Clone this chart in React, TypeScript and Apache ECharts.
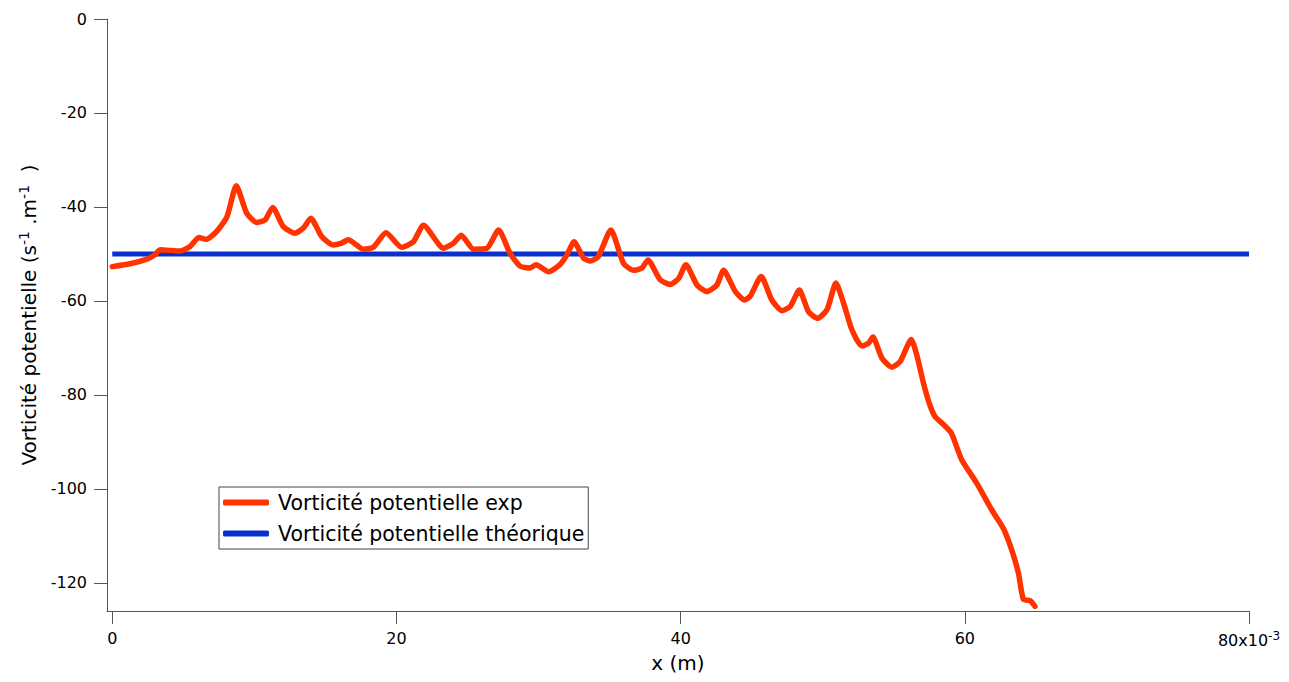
import React, { useEffect, useRef } from "react";
import * as echarts from "echarts";

const expX = [
  0, 1.25, 2.44, 3.0, 3.38, 4.77, 5.48, 6.1, 6.6, 7.35, 8.07, 8.73, 9.46, 10.16, 10.75, 11.29,
  12.04, 12.86, 13.45, 13.97, 14.74, 15.55, 16.14, 16.61, 17.67, 18.37, 19.27, 20.37, 21.19,
  21.9, 23.32, 24.02, 24.56, 25.43, 26.37, 27.19, 28.0, 28.7, 29.4, 29.83, 30.7, 31.5, 32.0,
  32.5, 33.17, 33.64, 34.2, 35.09, 35.98, 36.69, 37.27, 37.7, 38.56, 39.27, 39.86, 40.37,
  41.15, 41.85, 42.55, 43.02, 43.85, 44.5, 44.9, 45.67, 46.42, 47.13, 47.71, 48.35, 49.0,
  49.64, 50.3, 50.93, 51.47, 52.06, 52.76, 53.23, 53.53, 54.17, 54.87, 55.45, 56.23, 56.62,
  57.09, 57.5, 57.9, 58.5, 59.0, 59.2, 59.78, 60.84, 61.9, 62.71, 63.3, 63.77, 64.12, 64.59,
  64.94,
];
const expY = [
  -52.7, -52.1, -51.1, -50.2, -49.1, -49.4, -48.4, -46.5, -46.9, -45.2, -42.1, -35.5, -41.3,
  -43.3, -42.8, -40.1, -44.2, -45.6, -44.5, -42.4, -46.3, -48.1, -47.7, -47.0, -49.0, -48.6,
  -45.5, -48.6, -47.4, -43.9, -48.8, -47.7, -46.0, -49.0, -48.8, -44.9, -49.9, -52.6, -53.0,
  -52.3, -53.8, -52.3, -50.2, -47.4, -50.9, -51.5, -50.6, -44.9, -52.0, -53.5, -53.0, -51.3,
  -55.5, -56.5, -55.2, -52.3, -56.6, -58.0, -56.6, -53.5, -58.0, -59.8, -59.0, -54.8, -59.8,
  -62.1, -61.2, -57.7, -62.3, -63.7, -61.9, -56.2, -60.5, -66.2, -69.6, -69.0, -67.7, -72.2,
  -74.1, -72.9, -68.2, -71.5, -77.5, -81.8, -84.6, -86.3, -87.9, -89.2, -93.8, -98.8, -104.5,
  -108.4, -113.0, -117.9, -123.5, -123.8, -125.0,
];
const theoX = [0, 80];
const theoY = [-50, -50];
const xTicks = [0, 20, 40, 60, 80];
const yTicks = [0, -20, -40, -60, -80, -100, -120];
const expName = "Vorticité potentielle exp";
const theoName = "Vorticité potentielle théorique";

const FONT = "DejaVu Sans";

export default function App() {
  const ref = useRef<HTMLDivElement>(null);
  useEffect(() => {
    const chart = echarts.init(ref.current!, null, { renderer: "svg" });
    const axisColor = "#555";
    chart.setOption({
      animation: false,
      backgroundColor: "#fff",
      grid: { left: 107, right: 40, top: 19, bottom: 71, outerBoundsMode: "none", containLabel: false },
      legend: {
        orient: "vertical",
        left: 219,
        top: 487,
        padding: [5, 4, 5, 4],
        itemGap: 10,
        itemWidth: 46,
        itemHeight: 6,
        icon: "roundRect",
        borderColor: "#444",
        borderWidth: 1,
        textStyle: { fontFamily: FONT, fontSize: 20.5, color: "#000", padding: [0, 0, 0, 4] },
        data: [expName, theoName],
      },
      xAxis: {
        type: "value",
        min: -0.37,
        max: 80,
        splitLine: { show: false },
        axisLine: { show: true, onZero: false, lineStyle: { color: axisColor, width: 1 } },
        axisTick: { show: true, length: 13, customValues: xTicks, lineStyle: { color: axisColor } },
        axisLabel: {
          customValues: xTicks,
          margin: 19,
          fontFamily: FONT,
          fontSize: 16,
          color: "#000",
          formatter: (v: number) => (v === 80 ? "{a|80x10}{s|-3}" : String(v)),
          rich: {
            a: { fontFamily: FONT, fontSize: 16, color: "#000" },
            s: { fontFamily: FONT, fontSize: 12, color: "#000", verticalAlign: "top", padding: [0, 0, 8, 0] },
          },
        },
        name: "x (m)",
        nameLocation: "middle",
        nameGap: 39,
        nameTextStyle: { fontFamily: FONT, fontSize: 20, color: "#000" },
      },
      yAxis: {
        type: "value",
        min: -126,
        max: 0,
        splitLine: { show: false },
        axisLine: { show: true, onZero: false, lineStyle: { color: axisColor, width: 1 } },
        axisTick: { show: true, length: 13, customValues: yTicks, lineStyle: { color: axisColor } },
        axisLabel: { customValues: yTicks, margin: 20, fontFamily: FONT, fontSize: 16, color: "#000" },
        name: "Vorticité potentielle (s{s|-1} .m{s|-1}  )",
        nameLocation: "middle",
        nameRotate: 90,
        nameGap: 78,
        nameTextStyle: {
          fontFamily: FONT,
          fontSize: 20,
          color: "#000",
          verticalAlign: "middle",
          rich: {
            s: { fontFamily: FONT, fontSize: 14, color: "#000", verticalAlign: "top", padding: [0, 0, 10, 0] },
          },
        },
      },
      series: [
        {
          name: expName,
          type: "line",
          data: expX.map((x, i) => [x, expY[i]]),
          showSymbol: false,
          symbol: "none",
          smooth: 0.2,
          itemStyle: { color: "#ff3300" },
          lineStyle: { color: "#ff3300", width: 5.5, cap: "round", join: "round" },
          z: 3,
        },
        {
          name: theoName,
          type: "line",
          data: theoX.map((x, i) => [x, theoY[i]]),
          showSymbol: false,
          symbol: "none",
          itemStyle: { color: "#0a2fcf" },
          lineStyle: { color: "#0a2fcf", width: 5, cap: "butt" },
          z: 2,
        },
      ],
    });
    return () => chart.dispose();
  }, []);
  return (
    <div
      ref={ref}
      style={{ position: "fixed", left: 0, top: 0, width: 1289, height: 682, background: "#fff" }}
    />
  );
}
